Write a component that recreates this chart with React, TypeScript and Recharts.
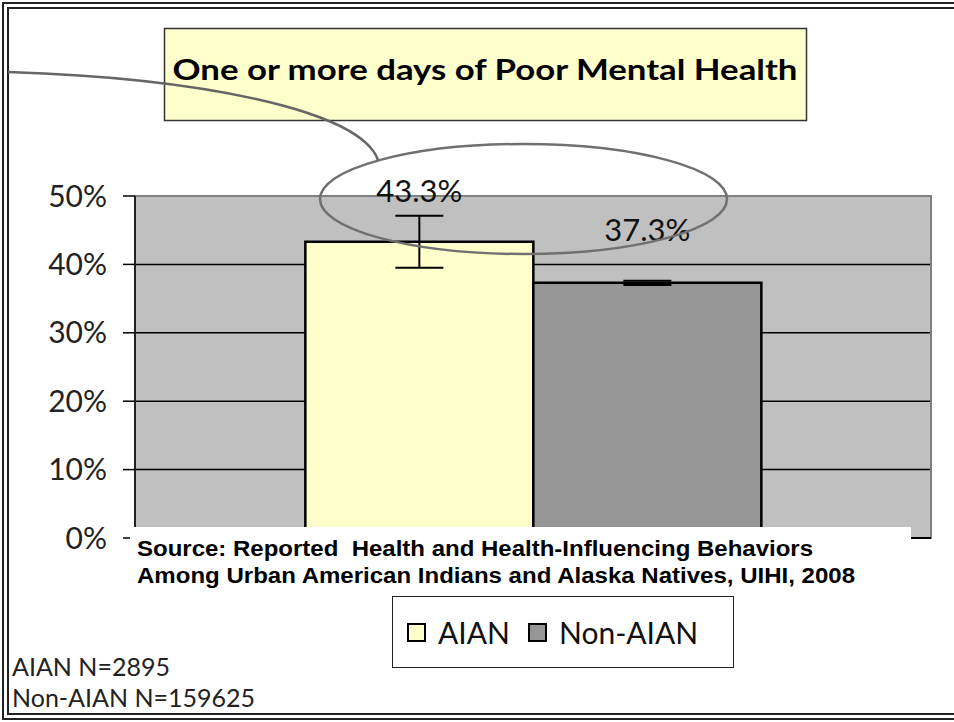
import React from "react";
import {
  BarChart,
  Bar,
  XAxis,
  YAxis,
  CartesianGrid,
  ErrorBar,
  LabelList,
  Legend,
  ReferenceArea,
} from "recharts";

const categories = ["One or more days of Poor Mental Health"];
const aianValues = [43.3];
const nonAianValues = [37.3];
const aianErrors = [3.8];
const nonAianErrors = [0.3];
const yTicks = [0, 10, 20, 30, 40, 50];
const seriesNames = ["AIAN", "Non-AIAN"];
const sampleNotes = ["AIAN N=2895", "Non-AIAN N=159625"];
const sourceLines = [
  "Source: Reported  Health and Health-Influencing Behaviors",
  "Among Urban American Indians and Alaska Natives, UIHI, 2008",
];

const data = categories.map((name, i) => ({
  name,
  aian: aianValues[i],
  nonAian: nonAianValues[i],
  aianErr: aianErrors[i],
  nonAianErr: nonAianErrors[i],
}));

const FONT = "Lato, 'Open Sans', sans-serif";
const colors = ["#FFFFCC", "#969696"];

function LegendBox() {
  return (
    <div
      style={{
        width: 342,
        height: 72,
        boxSizing: "border-box",
        border: "1.5px solid #222",
        background: "#fff",
        display: "flex",
        alignItems: "center",
        paddingLeft: 14,
        fontFamily: FONT,
        fontSize: 30,
        color: "#111",
      }}
    >
      {seriesNames.map((n, i) => (
        <div key={n} style={{ display: "flex", alignItems: "center", marginRight: 18 }}>
          <span
            style={{
              width: 15,
              height: 15,
              border: "2.5px solid #000",
              background: colors[i],
              marginRight: 12,
              display: "inline-block",
            }}
          />
          <span>{n}</span>
        </div>
      ))}
    </div>
  );
}

export default function App() {
  return (
    <div style={{ position: "absolute", left: 0, top: 0, width: 954, height: 722, background: "#fff" }}>
      <BarChart
        width={954}
        height={722}
        data={data}
        margin={{ top: 196, right: 23, bottom: 183, left: 50 }}
        barCategoryGap="21.4%"
        barGap={0}
      >
        <CartesianGrid vertical={false} stroke="#000" strokeWidth={1.5} fill="#C0C0C0" fillOpacity={1} />
        <ReferenceArea y1={0} y2={50} fill="none" stroke="#808080" strokeWidth={2} ifOverflow="visible" />
        <XAxis dataKey="name" height={1} tick={false} tickLine={false} axisLine={{ stroke: "#000", strokeWidth: 2 }} />
        <YAxis
          width={85}
          domain={[0, 50]}
          ticks={yTicks}
          allowDataOverflow
          tickFormatter={(v) => `${v}%`}
          tickSize={12}
          tickMargin={16}
          axisLine={{ stroke: "#222", strokeWidth: 2 }}
          tickLine={{ stroke: "#000", strokeWidth: 1.5 }}
          tick={{ fill: "#222", fontSize: 30, fontFamily: FONT }}
        />
        <Legend
          layout="horizontal"
          verticalAlign="middle"
          align="center"
          wrapperStyle={{ left: 392, top: 596, width: 342 }}
          content={() => <LegendBox />}
        />
        <Bar dataKey="aian" name={seriesNames[0]} fill={colors[0]} stroke="#000" strokeWidth={2.5} isAnimationActive={false}>
          <ErrorBar dataKey="aianErr" width={24} stroke="#000" strokeWidth={2} direction="y" />
          <LabelList
            dataKey="aian"
            position="top"
            offset={40}
            formatter={(v: number) => `${v}%`}
            style={{ fill: "#111", fontSize: 31, fontFamily: FONT }}
          />
        </Bar>
        <Bar dataKey="nonAian" name={seriesNames[1]} fill={colors[1]} stroke="#000" strokeWidth={2.5} isAnimationActive={false}>
          <ErrorBar dataKey="nonAianErr" width={24} stroke="#000" strokeWidth={2} direction="y" />
          <LabelList
            dataKey="nonAian"
            position="top"
            offset={42}
            formatter={(v: number) => `${v}%`}
            style={{ fill: "#111", fontSize: 31, fontFamily: FONT }}
          />
        </Bar>
      </BarChart>

      <svg
        width={954}
        height={722}
        style={{ position: "absolute", left: 0, top: 0, pointerEvents: "none" }}
      >
        {/* double frame, open on the right */}
        <path d="M954 3 H3 V719 H954" fill="none" stroke="#222" strokeWidth={2} />
        <path d="M954 8 H8 V714 H954" fill="none" stroke="#222" strokeWidth={2} />

        <rect x={164.5} y={28.5} width={642} height={92} fill="#FFFFCC" stroke="#333" strokeWidth={1.5} />
        <text
          x={485}
          y={80}
          textAnchor="middle"
          fontFamily={FONT}
          fontWeight={700}
          fontSize={28}
          fill="#000"
          textLength={625}
          lengthAdjust="spacingAndGlyphs"
        >
          {categories[0]}
        </text>

        <path d="M8 72 C200 78 360 110 378 160" fill="none" stroke="#666" strokeWidth={2.5} />
        <ellipse cx={523.5} cy={199} rx={203.5} ry={55} fill="none" stroke="#707070" strokeWidth={2.5} />

        <rect x={130} y={527} width={781} height={63} fill="#fff" />
        {sourceLines.map((line, i) => (
          <text
            key={i}
            x={137}
            y={556 + i * 27}
            xmlSpace="preserve"
            style={{ whiteSpace: "pre" }}
            fontFamily="'Liberation Sans', Arial, sans-serif"
            fontWeight={700}
            fontSize={22}
            fill="#000"
            textLength={i === 0 ? 676 : 718}
            lengthAdjust="spacingAndGlyphs"
          >
            {line}
          </text>
        ))}

        {sampleNotes.map((t, i) => (
          <text key={t} x={12} y={676 + i * 31} fontFamily={FONT} fontSize={25} fill="#222">
            {t}
          </text>
        ))}
      </svg>
    </div>
  );
}
